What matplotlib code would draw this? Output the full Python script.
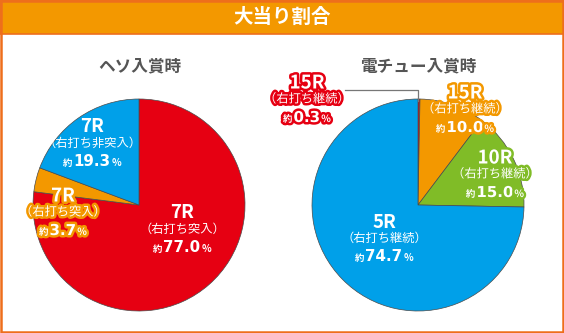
import matplotlib
matplotlib.use('Agg')
import matplotlib.pyplot as plt
from matplotlib import patheffects
from matplotlib.patches import Rectangle

plt.rcParams['font.family'] = ['Noto Sans CJK JP', 'DejaVu Sans']

W, H = 564, 333

title = '大当り割合'

heso_title = 'ヘソ入賞時'
heso_rounds = ['7R', '7R', '7R']
heso_notes = ['（右打ち突入）', '（右打ち突入）', '（右打ち非突入）']
heso_share = [77.0, 3.7, 19.3]

denchu_title = '電チュー入賞時'
denchu_rounds = ['15R', '15R', '10R', '5R']
denchu_notes = ['（右打ち継続）', '（右打ち継続）', '（右打ち継続）', '（右打ち継続）']
denchu_share = [0.3, 10.0, 15.0, 74.7]

RED = '#E60012'
ORANGE = '#F39800'
BLUE = '#00A0E9'
GREEN = '#80BC27'

heso_colors = [RED, ORANGE, BLUE]
denchu_colors = [RED, ORANGE, GREEN, BLUE]

# label centre (x, y from top) and whether the text gets a coloured outline
heso_label_pos = [(182, 213), (63, 196), (92, 127)]
heso_outline = [False, True, False]
denchu_label_pos = [(307, 83), (465, 93), (495, 158), (384, 222)]
denchu_outline = [True, True, True, False]

fig = plt.figure(figsize=(W / 100, H / 100), dpi=100)
ax = fig.add_axes([0, 0, 1, 1])


def draw_pie(cx, cy, r, values, colors):
    ax.pie(values, colors=colors, center=(cx, H - cy), radius=r,
           startangle=90, counterclock=False,
           wedgeprops=dict(edgecolor='#4a4a4a', linewidth=0.5))


def pct_line(x, y, pct, fx):
    parts = [('約', 'Noto Sans CJK JP', 6.8),
             (f'{pct:.1f}', 'DejaVu Sans', 10.8),
             ('%', 'Noto Sans CJK JP', 7.2)]
    texts = []
    for s, fam, size in parts:
        t = ax.text(0, H - y - 5, s, ha='left', va='baseline', fontsize=size,
                    family=fam, fontweight='bold', color='white',
                    path_effects=fx)
        texts.append(t)
    rend = fig.canvas.get_renderer()
    widths = [t.get_window_extent(rend).width for t in texts]
    gap = 1.0
    cur = x - (sum(widths) + gap * (len(widths) - 1)) / 2
    for t, w in zip(texts, widths):
        t.set_x(cur)
        cur += w + gap


def slice_label(pos, rnd, note, pct, color, outline):
    x, y = pos
    fx = [patheffects.withStroke(linewidth=3.6, foreground=color)] if outline else []
    ax.text(x, H - y, rnd, ha='center', va='center', fontsize=13.5,
            fontweight='bold', color='white', path_effects=fx)
    ax.text(x, H - y - 16, note, ha='center', va='center', fontsize=8.8,
            color='white', path_effects=fx)
    pct_line(x, y + 34, pct, fx)


# header bar and frame
ax.add_patch(Rectangle((0, H - 34), W, 34, facecolor=ORANGE,
                       edgecolor='#EE6E1C', linewidth=1.2, zorder=3))
ax.add_patch(Rectangle((1.25, 1.25), W - 2.5, H - 2.5, facecolor='none',
                       edgecolor='#EE6E1C', linewidth=1.8, zorder=3))
ax.text(W / 2, H - 17, title, ha='center', va='center', fontsize=14,
        fontweight='bold', color='white', zorder=4)

draw_pie(139, 205, 106, heso_share, heso_colors)
draw_pie(418, 205, 106, denchu_share, denchu_colors)

ax.text(140, H - 66, heso_title, ha='center', va='center', fontsize=12,
        fontweight='bold', color='#555555')
ax.text(418, H - 66, denchu_title, ha='center', va='center', fontsize=12,
        fontweight='bold', color='#555555')

for i in range(len(heso_share)):
    slice_label(heso_label_pos[i], heso_rounds[i], heso_notes[i],
                heso_share[i], heso_colors[i], heso_outline[i])
for i in range(len(denchu_share)):
    slice_label(denchu_label_pos[i], denchu_rounds[i], denchu_notes[i],
                denchu_share[i], denchu_colors[i], denchu_outline[i])

# leader for the thin 15R slice
ax.plot([345, 418, 418], [H - 90, H - 90, H - 101], color='#777777',
        linewidth=0.9)

ax.set_xlim(0, W)
ax.set_ylim(0, H)
ax.set_aspect('auto')
ax.axis('off')

fig.savefig('out.png', dpi=100)
